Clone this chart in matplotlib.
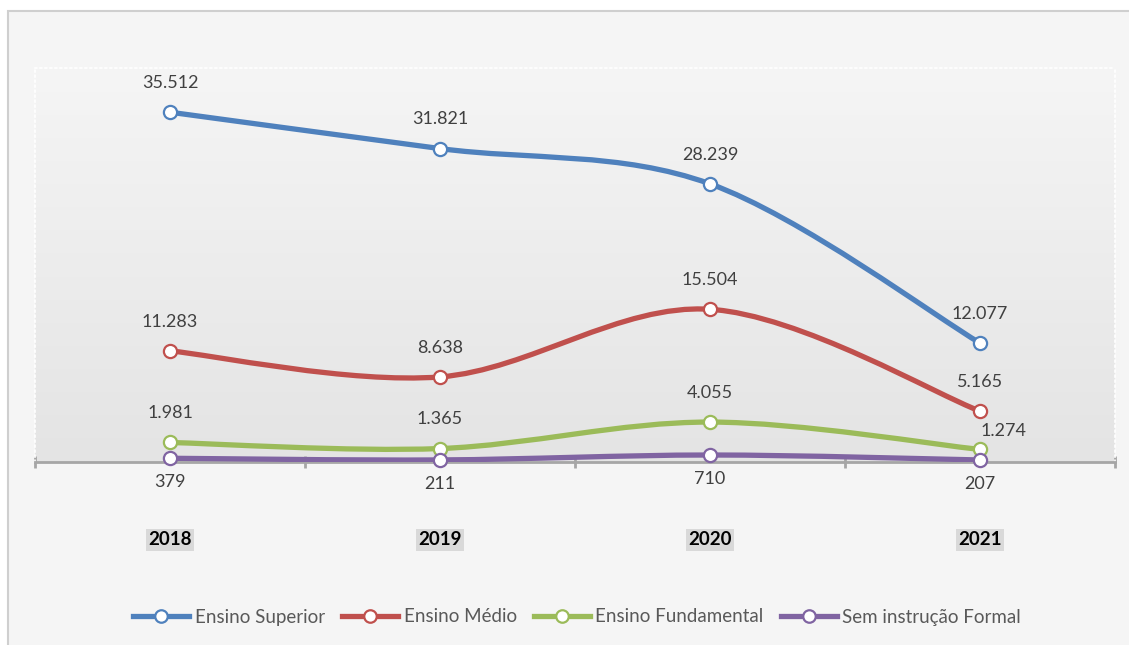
import numpy as np
import matplotlib
matplotlib.use("Agg")
import matplotlib.pyplot as plt
from matplotlib.path import Path
from matplotlib.patches import PathPatch, Rectangle
from matplotlib.lines import Line2D

years = ["2018", "2019", "2020", "2021"]
series_names = ["Ensino Superior", "Ensino Médio", "Ensino Fundamental", "Sem instrução Formal"]
superior = [35512, 31821, 28239, 12077]
medio = [11283, 8638, 15504, 5165]
fundamental = [1981, 1365, 4055, 1274]
sem_instrucao = [379, 211, 710, 207]

colors = ["#4f81bd", "#c0504d", "#9bbb59", "#8064a2"]

plt.rcParams['font.family'] = ['Lato', 'DejaVu Sans']


def fmt(v):
    return "{:,}".format(v).replace(",", ".")


def smooth_path(xs, ys):
    # excel-like smoothed line: cubic bezier through the points
    pts = np.column_stack([xs, ys]).astype(float)
    ext = np.vstack([pts[0], pts, pts[-1]])
    verts = [tuple(pts[0])]
    codes = [Path.MOVETO]
    for i in range(1, len(ext) - 2):
        p0, p1, p2, p3 = ext[i - 1], ext[i], ext[i + 1], ext[i + 2]
        c1 = p1 + (p2 - p0) / 6.0
        c2 = p2 - (p3 - p1) / 6.0
        verts += [tuple(c1), tuple(c2), tuple(p2)]
        codes += [Path.CURVE4] * 3
    return Path(verts, codes)


fig = plt.figure(figsize=(11.29, 6.45), dpi=100)
fig.patch.set_facecolor("white")
# chart area frame
fig.patches.append(Rectangle((8 / 1129, -0.1), 1.2, (645 - 11) / 645 + 0.1,
                             transform=fig.transFigure, facecolor="#f5f5f5",
                             edgecolor="#cfcfcf", linewidth=1.5, zorder=-10))

ax = fig.add_axes([35 / 1129, (645 - 462) / 645, (1115 - 35) / 1129, (462 - 68) / 645])
ax.set_facecolor("none")
ax.set_xlim(-0.5, 3.5)
ax.set_ylim(0, 40000)

# gradient background of the plot area
grad = np.linspace(0, 1, 256).reshape(-1, 1)
ax.imshow(grad, extent=(-0.5, 3.5, 0, 40000), aspect="auto", origin="upper",
          cmap=matplotlib.colors.LinearSegmentedColormap.from_list("g", ["#f5f5f5", "#e4e4e4"]),
          zorder=0)

x = np.arange(len(years))
all_series = [superior, medio, fundamental, sem_instrucao]
for vals, c in zip(all_series, colors):
    ax.add_patch(PathPatch(smooth_path(x, vals), facecolor="none", edgecolor=c,
                           linewidth=3.8, capstyle="round", zorder=3))
    ax.plot(x, vals, linestyle="none", marker="o", markersize=9.5,
            markerfacecolor="white", markeredgecolor=c, markeredgewidth=1.6, zorder=4,
            clip_on=False)

lab_kw = dict(textcoords="offset points", ha="center", va="center",
              fontsize=13, color="#404040", zorder=5)
for vals in [superior, medio, fundamental]:
    for i, v in enumerate(vals):
        off = (0, 21)
        if vals is fundamental and i == 3:
            off = (17, 13)
        ax.annotate(fmt(v), (x[i], v), xytext=off, **lab_kw)
for i, v in enumerate(sem_instrucao):
    ax.annotate(fmt(v), (x[i], v), xytext=(0, -17), **lab_kw)

# axes styling
for s in ["top", "left", "right"]:
    ax.spines[s].set_color("white")
    ax.spines[s].set_linestyle((0, (1, 2)))
    ax.spines[s].set_linewidth(1.2)
ax.spines["bottom"].set_color("#a6a6a6")
ax.spines["bottom"].set_linewidth(2)
ax.set_yticks([])
ax.set_xticks(x)
ax.set_xticklabels(years, fontsize=13.5, fontweight="bold", color="black")
ax.tick_params(axis="x", which="major", length=0, pad=50)
for t in ax.get_xticklabels():
    t.set_bbox(dict(facecolor="#d9d9d9", edgecolor="none", pad=1.5))
ax.set_xticks(np.arange(-0.5, 4, 1), minor=True)
ax.tick_params(axis="x", which="minor", length=8, width=2, color="#a6a6a6", direction="inout")

handles = [Line2D([0], [0], color=c, linewidth=3.8, marker="o", markersize=9,
                  markerfacecolor="white", markeredgecolor=c, markeredgewidth=1.6)
           for c in colors]
fig.legend(handles, series_names, loc="center", bbox_to_anchor=(577 / 1129, (645 - 617) / 645),
           ncol=4, frameon=False, fontsize=13.5, handlelength=3.0, columnspacing=0.9,
           handletextpad=0.3, labelcolor="#595959")

fig.savefig("out.png", dpi=100)
